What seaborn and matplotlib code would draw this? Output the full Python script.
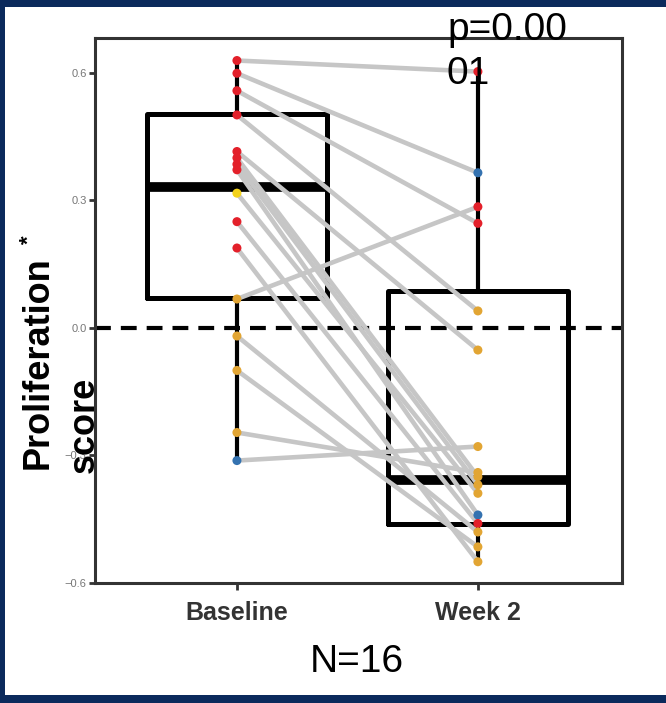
import matplotlib
matplotlib.use("Agg")
import pandas as pd
import matplotlib.pyplot as plt
import seaborn as sns
from matplotlib.patches import Rectangle

# Paired proliferation scores, one entry per patient (same order in both lists)
baseline = [0.629, 0.599, 0.558, 0.501, 0.415, 0.400, 0.385, 0.372,
            0.317, 0.250, 0.188, 0.068, -0.019, -0.100, -0.246, -0.312]
week2 = [0.603, 0.365, 0.246, 0.040, -0.052, -0.350, -0.369, -0.440,
         -0.389, -0.460, -0.550, 0.285, -0.480, -0.515, -0.340, -0.279]

# point colour group at each timepoint
baseline_group = ["red", "red", "red", "red", "red", "red", "red", "red",
                  "yellow", "red", "red", "gold", "gold", "gold", "gold", "blue"]
week2_group = ["red", "blue", "red", "gold", "gold", "gold", "gold", "blue",
               "gold", "red", "gold", "red", "gold", "gold", "gold", "gold"]

timepoints = ["Baseline", "Week 2"]

# box summaries as drawn in the figure
box_q1 = [0.071, -0.462]
box_med = [0.332, -0.358]
box_q3 = [0.503, 0.088]
whisker_lo = [-0.312, -0.550]
whisker_hi = [0.629, 0.603]

palette = {"red": "#e3202a", "gold": "#e2a533", "yellow": "#f3d21a", "blue": "#3472b0"}

n = len(baseline)
df = pd.DataFrame({
    "subject": list(range(n)) * 2,
    "pos": [0] * n + [1] * n,
    "score": baseline + week2,
    "group": baseline_group + week2_group,
})

sns.set_style("ticks")
plt.rcParams["font.family"] = ["Liberation Sans", "DejaVu Sans"]

W, H = 666, 703
fig = plt.figure(figsize=(W / 100, H / 100), dpi=100, facecolor="#0b2a5c")
fig.patches.append(Rectangle((5 / W, 8 / H), 1 - 5 / W, 1 - 15 / H,
                             transform=fig.transFigure, facecolor="white",
                             edgecolor="none", zorder=-10))

ax = fig.add_axes([95 / W, 1 - 583 / H, 527 / W, 545 / H])
ax.set_facecolor("white")

# zero reference line
ax.axhline(0, color="black", lw=3, linestyle=(0, (3.8, 2.4)), zorder=1.5)

# boxes
stats = []
for i in range(2):
    stats.append({"q1": box_q1[i], "med": box_med[i], "q3": box_q3[i],
                  "whislo": whisker_lo[i], "whishi": whisker_hi[i], "fliers": []})
ax.bxp(stats, positions=[0, 1], widths=0.75, showfliers=False, showcaps=False,
       manage_ticks=False,
       boxprops=dict(color="black", lw=3.6),
       whiskerprops=dict(color="black", lw=3),
       medianprops=dict(color="black", lw=7, solid_capstyle="butt"),
       zorder=2)

# paired lines
sns.lineplot(data=df, x="pos", y="score", units="subject", estimator=None,
             color="#c6c6c6", lw=3.3, legend=False, ax=ax, zorder=3)

# points
sns.stripplot(data=df, x="pos", y="score", hue="group", palette=palette,
              jitter=False, size=6.5, linewidth=0, native_scale=True,
              legend=False, ax=ax, zorder=4)

ax.set_xlim(-0.589, 1.598)
ax.set_ylim(-0.6, 0.682)
ax.set_xticks([0, 1], timepoints)
ax.set_yticks([-0.6, -0.3, 0.0, 0.3, 0.6])
ax.set_xlabel("")
ax.set_ylabel("")

for s in ax.spines.values():
    s.set_visible(True)
    s.set_linewidth(2.2)
    s.set_color("#333333")

ax.tick_params(axis="y", length=4, width=2, color="#333333", labelsize=8,
               labelcolor="#777777", pad=2)
ax.tick_params(axis="x", length=5, width=2, color="#333333", labelsize=18,
               labelcolor="#333333", pad=8)
for lab in ax.get_xticklabels():
    lab.set_fontweight("bold")


def fx(x):
    return x / W


def fy(y):
    return 1 - y / H


fig.text(fx(38), fy(363), "Proliferation", rotation=90, ha="center", va="center",
         fontsize=26, fontweight="bold", color="black")
fig.text(fx(29), fy(240), "*", rotation=90, ha="center", va="center",
         fontsize=16, fontweight="bold", color="black")
fig.text(fx(84), fy(425), "score", rotation=90, ha="center", va="center",
         fontsize=26, fontweight="bold", color="black")

fig.text(fx(447), fy(40), "p=0.00", ha="left", va="baseline", fontsize=28, color="black")
fig.text(fx(447), fy(84), "01", ha="left", va="baseline", fontsize=28, color="black")

fig.text(fx(357), fy(672), "N=16", ha="center", va="baseline", fontsize=28, color="black")

fig.savefig("out.png", dpi=100, facecolor=fig.get_facecolor())
